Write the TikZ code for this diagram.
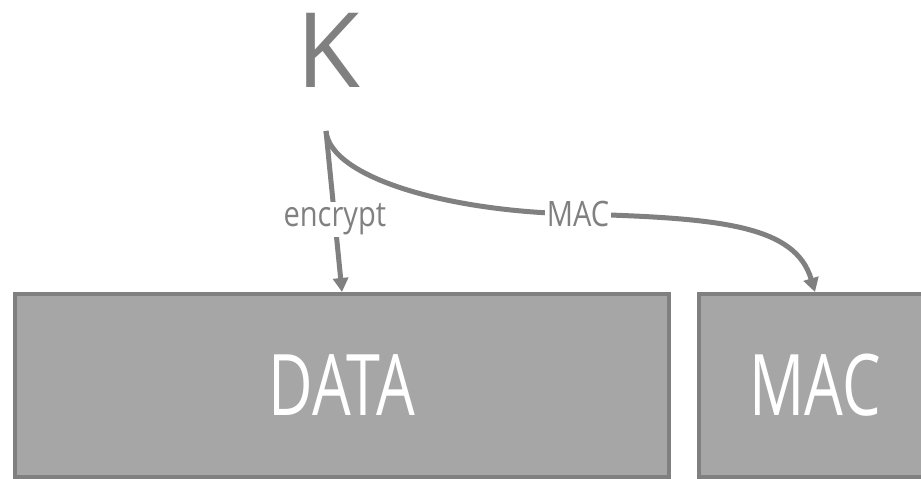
\documentclass[tikz,border=0pt]{standalone}
\usepackage{fontspec}
\setmainfont{Open Sans}
\newfontfamily\condfont{Open Sans}[FakeStretch=0.72]
\newfontfamily\lblfont{Open Sans}[FakeStretch=0.83]
\usetikzlibrary{arrows.meta}
\definecolor{lgray}{HTML}{808080}
\definecolor{boxfill}{HTML}{A6A6A6}
\tikzset{
  block/.style={draw=lgray, fill=boxfill, line width=4pt, inner sep=0pt,
    minimum height=183pt, text=white, font=\condfont\fontsize{85}{85}\selectfont},
  conn/.style={draw=lgray, line width=5pt, -{Triangle[length=14pt,width=15pt]}},
  lbl/.style={fill=white, text=lgray, inner sep=1.5pt, font=\lblfont\fontsize{35}{35}\selectfont},
}
\begin{document}
\begin{tikzpicture}[x=1pt,y=-1pt]
\clip (0,0) rectangle (921,479);
\fill[white] (0,0) rectangle (921,479);
\node[text=lgray, font=\fontsize{104}{104}\selectfont, inner sep=0pt] (k) at (328,50) {K};
\coordinate (ks) at (326,131);
\node[block, minimum width=654pt] (data) at (342,385.5) {DATA};
\node[block, minimum width=232pt] (mac) at (815,385.5) {MAC};
\draw[conn] (ks) -- node[lbl, pos=0.55] (enc) {encrypt} (data.north);
\draw[conn] (ks) .. controls (330,178) and (450,212) .. (578,214)
  node[lbl] (maclbl) {MAC}
  .. controls (720,218) and (795,225) .. (mac.north);
\end{tikzpicture}
\end{document}
